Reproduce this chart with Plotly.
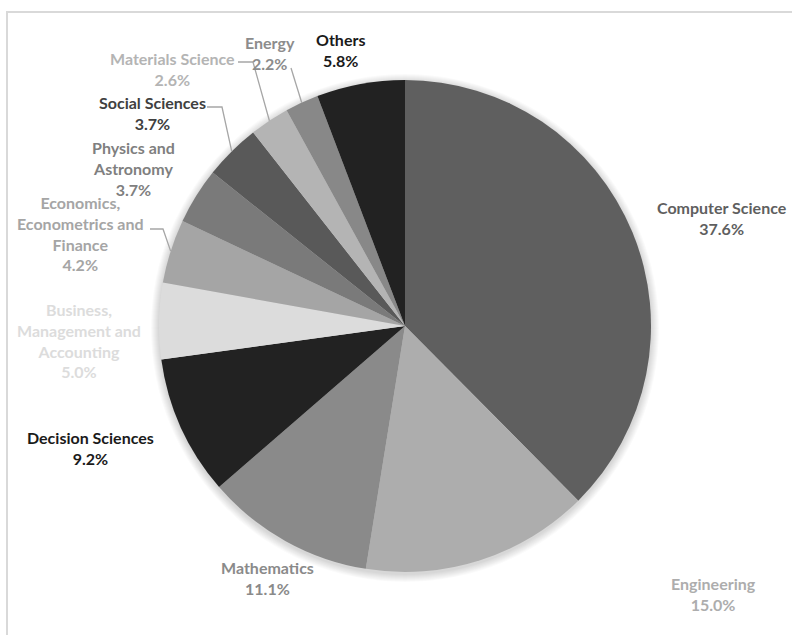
import math
import plotly.graph_objects as go

# ---- data ----
categories = ["Computer Science", "Engineering", "Mathematics", "Decision Sciences",
              "Business, Management and Accounting", "Economics, Econometrics and Finance",
              "Physics and Astronomy", "Social Sciences", "Materials Science", "Energy", "Others"]
label_text = ["Computer Science", "Engineering", "Mathematics", "Decision Sciences",
              "Business,<br>Management and<br>Accounting", "Economics,<br>Econometrics and<br>Finance",
              "Physics and<br>Astronomy", "Social Sciences", "Materials Science", "Energy", "Others"]
shares = [37.6, 15.0, 11.1, 9.2, 5.0, 4.2, 3.7, 3.7, 2.6, 2.2, 5.8]

# ---- styles ----
slice_colors = ["#5f5f5f", "#adadad", "#8a8a8a", "#222222", "#dcdcdc", "#a5a5a5",
                "#7a7a7a", "#595959", "#b4b4b4", "#888888", "#222222"]
text_colors = ["#5f5f5f", "#adadad", "#8a8a8a", "#1a1a1a", "#dcdcdc", "#a5a5a5",
               "#7f7f7f", "#404040", "#b4b4b4", "#8c8c8c", "#1a1a1a"]
# label centres in pixels (layout of the text boxes)
label_pos = [(722, 218), (713, 594), (267, 578), (90, 448), (79, 340), (80, 234),
             (133, 169), (152, 113), (172, 69), (270, 53), (340, 50)]
# leader lines: index -> elbow point (px) or None for straight line start
leaders = {5: [(150, 229), (163, 229)], 7: [(207, 107), (222, 107)],
           8: [(238, 62), (253, 62)], 9: [(291, 68)]}

W, H = 792, 635
CX, CY, R = 405, 326, 246
FONT = "Lato"

def px(x):
    return x / W

def py(y):
    return 1 - y / H

fig = go.Figure()
fig.add_trace(go.Pie(
    labels=categories, values=shares, sort=False, direction="clockwise", rotation=0,
    marker=dict(colors=slice_colors, line=dict(width=0)),
    textinfo="none", hoverinfo="label+percent", showlegend=False,
    domain=dict(x=[px(CX - R), px(CX + R)], y=[py(CY + R), py(CY - R)]),
))

shapes = []
# frame
shapes.append(dict(type="rect", xref="paper", yref="paper", x0=px(7), x1=px(W + 10),
                   y0=py(H + 10), y1=py(12), line=dict(color="#d9d9d9", width=2),
                   fillcolor="rgba(0,0,0,0)", layer="below"))
# soft shadow
for k in range(1, 9):
    shapes.append(dict(type="circle", xref="paper", yref="paper",
                       x0=px(CX - R - k), x1=px(CX + R + k),
                       y0=py(CY + R + k + 2), y1=py(CY - R - k + 2),
                       line=dict(width=0), fillcolor="rgba(0,0,0,0.018)", layer="below"))

total = sum(shares)
cum = 0.0
mids = []
for v in shares:
    mids.append((cum + v / 2) / total * 2 * math.pi)
    cum += v

for i, pts in leaders.items():
    a = mids[i]
    ex, ey = CX + R * math.sin(a), CY - R * math.cos(a)
    allpts = pts + [(ex, ey)]
    path = "M " + " L ".join(f"{px(x)},{py(y)}" for x, y in allpts)
    shapes.append(dict(type="path", xref="paper", yref="paper", path=path,
                       line=dict(color="#a6a6a6", width=1.3)))

annotations = []
for i in range(len(categories)):
    x, y = label_pos[i]
    annotations.append(dict(
        x=px(x), y=py(y), xref="paper", yref="paper", xanchor="center", yanchor="middle",
        text=f"<b>{label_text[i]}<br>{shares[i]:.1f}%</b>", showarrow=False, align="center",
        font=dict(family=FONT, size=16, color=text_colors[i])))

fig.update_layout(width=W, height=H, margin=dict(l=0, r=0, t=0, b=0),
                  paper_bgcolor="white", plot_bgcolor="white",
                  shapes=shapes, annotations=annotations)
fig.write_html("out.html")
